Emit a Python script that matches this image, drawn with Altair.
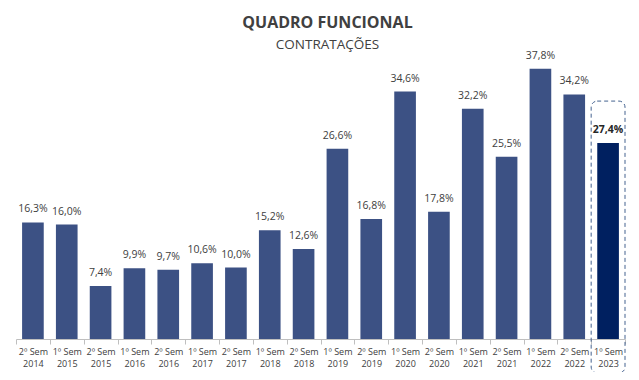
import altair as alt
import pandas as pd

semesters = ["2º Sem", "1º Sem", "2º Sem", "1º Sem", "2º Sem", "1º Sem", "2º Sem", "1º Sem", "2º Sem",
             "1º Sem", "2º Sem", "1º Sem", "2º Sem", "1º Sem", "2º Sem", "1º Sem", "2º Sem", "1º Sem"]
years = ["2014", "2015", "2015", "2016", "2016", "2017", "2017", "2018", "2018",
         "2019", "2019", "2020", "2020", "2021", "2021", "2022", "2022", "2023"]
values = [16.3, 16.0, 7.4, 9.9, 9.7, 10.6, 10.0, 15.2, 12.6,
          26.6, 16.8, 34.6, 17.8, 32.2, 25.5, 37.8, 34.2, 27.4]

cats = [f"{s}|{y}" for s, y in zip(semesters, years)]
df = pd.DataFrame({
    "cat": cats,
    "value": values,
    "label": [f"{v:.1f}".replace(".", ",") + "%" for v in values],
    "hl": ["atual" if i == len(values) - 1 else "hist" for i in range(len(values))],
})

FONT = "Open Sans"

x = alt.X("cat:N", sort=cats, title=None,
          scale=alt.Scale(paddingInner=0, paddingOuter=0),
          axis=alt.Axis(labelExpr="split(datum.label, '|')", labelAngle=0,
                        labelFont=FONT, labelFontSize=9, labelColor="#404040",
                        labelLineHeight=11.5, labelPadding=3.5,
                        domainColor="#BFBFBF", tickColor="#BFBFBF", tickSize=5,
                        tickBand="extent"))
y = alt.Y("value:Q", scale=alt.Scale(domain=[0, 40]), axis=None)

base = alt.Chart(df)

bars = base.mark_bar(width=alt.RelativeBandSize(0.64)).encode(
    x=x, y=y,
    color=alt.Color("hl:N", scale=alt.Scale(domain=["hist", "atual"], range=["#3C5184", "#002060"]), legend=None),
)

labels = base.transform_filter("datum.hl == 'hist'").mark_text(
    baseline="alphabetic", dy=-10, font=FONT, fontSize=10.5, color="#404040"
).encode(x=x, y=y, text="label:N")

labels_hl = base.transform_filter("datum.hl == 'atual'").mark_text(
    baseline="alphabetic", dy=-10, font=FONT, fontSize=10.5, fontWeight="bold", color="#262626"
).encode(x=x, y=y, text="label:N")

box = base.transform_filter("datum.hl == 'atual'").mark_bar(
    width=alt.RelativeBandSize(1.0), fillOpacity=0, stroke="#44628F", strokeWidth=1,
    strokeDash=[4, 3], cornerRadius=6, yOffset=-42, y2Offset=34
).encode(x=x, y=y, y2=alt.datum(0))

chart = alt.layer(bars, labels, labels_hl, box).properties(
    width=609, height=286,
    padding={"left": 8, "top": 45, "right": 6, "bottom": 33},
    autosize=alt.AutoSizeParams(type="none"),
    title=alt.TitleParams(
        text="QUADRO FUNCIONAL", subtitle="CONTRATAÇÕES",
        font=FONT, fontSize=16, fontWeight="bold", color="#404040",
        subtitleFont=FONT, subtitleFontSize=13.5, subtitleColor="#404040",
        subtitlePadding=7, anchor="middle", dx=7, offset=-1,
    ),
).configure_view(stroke=None)

chart.save("out.html", embed_options={"renderer": "svg", "actions": False})
